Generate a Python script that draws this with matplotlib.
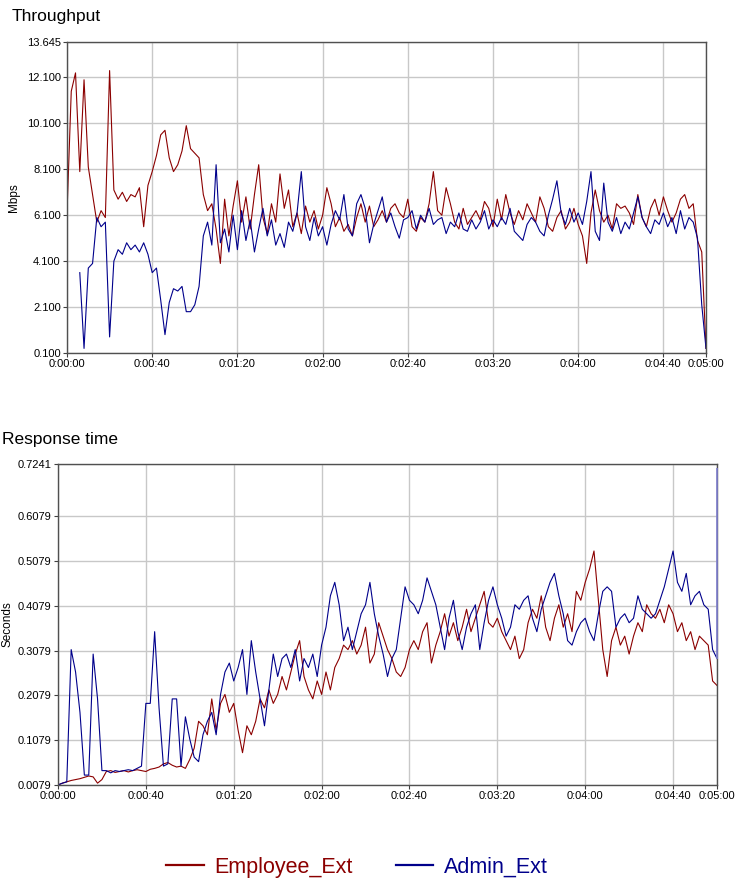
import numpy as np
import matplotlib
matplotlib.use("Agg")
import matplotlib.pyplot as plt

plt.rcParams['font.family'] = ['Liberation Sans', 'DejaVu Sans']

# time axis (seconds), one sample every 2 s
times = np.arange(0, 301, 2)

emp_tp = [6.2, 11.5, 12.3, 8.0, 12.0, 8.2, 7.0, 5.8, 6.3, 6.0,
          12.4, 7.2, 6.8, 7.1, 6.7, 7.0, 6.9, 7.3, 5.6, 7.4,
          8.0, 8.7, 9.6, 9.8, 8.6, 8.0, 8.3, 8.9, 10.0, 9.0,
          8.8, 8.6, 7.0, 6.3, 6.6, 5.5, 4.0, 6.8, 5.2, 6.5,
          7.6, 5.8, 6.9, 5.5, 7.0, 8.3, 6.0, 5.3, 6.6, 5.8,
          7.9, 6.4, 7.2, 5.6, 6.2, 5.3, 6.5, 5.8, 6.3, 5.5,
          6.1, 7.3, 6.6, 5.6, 6.0, 5.4, 5.7, 5.2, 6.0, 6.6,
          5.8, 6.5, 5.6, 5.9, 6.3, 5.8, 6.4, 6.6, 6.2, 6.0,
          6.8, 5.6, 5.4, 6.0, 5.8, 6.6, 8.0, 6.3, 6.1, 7.3,
          6.6, 5.8, 5.5, 6.4, 5.7, 6.0, 6.3, 5.9, 6.7, 6.4,
          5.6, 6.8, 5.9, 7.0, 6.2, 5.7, 6.3, 5.9, 6.6, 6.2,
          5.8, 6.9, 6.4, 5.6, 5.4, 6.0, 6.3, 5.5, 5.8, 6.4,
          5.7, 5.2, 4.0, 6.2, 7.2, 6.3, 5.8, 6.1, 5.5, 6.6,
          6.4, 6.5, 6.2, 5.7, 7.0, 6.0, 5.6, 6.4, 6.8, 6.1,
          6.9, 6.3, 5.8, 6.2, 6.8, 7.0, 6.4, 6.6, 5.0, 4.5,
          0.3]

adm_tp = [np.nan, np.nan, np.nan, 3.6, 0.3, 3.8, 4.0, 6.0, 5.6, 5.8,
          0.8, 4.1, 4.6, 4.4, 4.9, 4.6, 4.8, 4.5, 4.9, 4.4,
          3.6, 3.8, 2.4, 0.9, 2.3, 2.9, 2.8, 3.0, 1.9, 1.9,
          2.2, 3.0, 5.2, 5.8, 4.8, 8.3, 4.9, 5.5, 4.5, 6.1,
          4.6, 6.3, 5.0, 5.9, 4.5, 5.5, 6.4, 5.2, 5.9, 4.8,
          5.3, 4.7, 5.8, 5.4, 6.2, 8.0, 5.6, 5.0, 6.0, 5.2,
          5.6, 4.8, 5.7, 6.3, 5.9, 7.0, 5.5, 5.2, 6.6, 7.0,
          6.4, 4.9, 5.7, 6.3, 6.9, 5.8, 6.2, 5.6, 5.1, 5.9,
          6.0, 6.3, 5.5, 6.1, 5.8, 6.4, 5.7, 5.9, 6.0, 5.3,
          5.8, 5.6, 6.2, 5.5, 5.4, 5.9, 5.5, 5.8, 6.3, 5.5,
          5.9, 5.6, 6.0, 5.7, 6.4, 5.4, 5.2, 5.0, 5.7, 6.0,
          5.8, 5.4, 5.2, 6.1, 6.8, 7.6, 6.2, 5.7, 6.4, 5.8,
          6.2, 5.7, 6.7, 8.0, 5.4, 5.0, 7.5, 5.8, 5.4, 6.0,
          5.3, 5.8, 5.5, 6.2, 6.9, 6.0, 5.6, 5.3, 5.9, 5.7,
          6.2, 5.6, 6.0, 5.3, 6.3, 5.5, 6.0, 5.8, 5.1, 2.2,
          0.3]

emp_rt = [0.008, 0.012, 0.015, 0.018, 0.02, 0.022, 0.025, 0.028, 0.026, 0.012,
          0.02, 0.038, 0.04, 0.036, 0.038, 0.04, 0.037, 0.04, 0.042, 0.04,
          0.038, 0.043, 0.045, 0.048, 0.055, 0.058, 0.052, 0.048, 0.05, 0.045,
          0.065, 0.09, 0.15, 0.14, 0.12, 0.2, 0.13, 0.19, 0.21, 0.17,
          0.19, 0.13, 0.08, 0.14, 0.12, 0.15, 0.2, 0.18, 0.22, 0.19,
          0.21, 0.25, 0.22, 0.26, 0.3, 0.33, 0.25, 0.22, 0.2, 0.24,
          0.21, 0.26, 0.22, 0.27, 0.29, 0.32, 0.31, 0.33, 0.3, 0.32,
          0.36, 0.28, 0.3, 0.37, 0.34, 0.31, 0.29, 0.26, 0.25, 0.27,
          0.31, 0.33, 0.31, 0.35, 0.37, 0.28, 0.32, 0.35, 0.39, 0.34,
          0.37, 0.33, 0.36, 0.4, 0.35, 0.38, 0.41, 0.44, 0.37, 0.36,
          0.38, 0.35, 0.33, 0.31, 0.34, 0.29, 0.31, 0.37, 0.4, 0.38,
          0.43, 0.36, 0.33, 0.38, 0.41, 0.36, 0.39, 0.35, 0.44, 0.42,
          0.46, 0.49, 0.53, 0.42, 0.31, 0.25, 0.33, 0.36, 0.32, 0.34,
          0.3, 0.34, 0.37, 0.35, 0.41, 0.39, 0.38, 0.4, 0.37, 0.41,
          0.39, 0.35, 0.37, 0.33, 0.35, 0.31, 0.34, 0.33, 0.32, 0.24,
          0.23]

adm_rt = [0.008, 0.012, 0.015, 0.31, 0.26, 0.17, 0.03, 0.03, 0.3, 0.2,
          0.04, 0.04, 0.035, 0.04, 0.038, 0.04, 0.042, 0.04, 0.045, 0.05,
          0.19, 0.19, 0.35, 0.18, 0.05, 0.055, 0.2, 0.2, 0.05, 0.16,
          0.11, 0.07, 0.06, 0.12, 0.15, 0.17, 0.12, 0.21, 0.26, 0.28,
          0.24, 0.27, 0.31, 0.21, 0.33, 0.26, 0.2, 0.14, 0.22, 0.3,
          0.25, 0.29, 0.3, 0.27, 0.31, 0.24, 0.29, 0.27, 0.3, 0.25,
          0.32, 0.36, 0.43, 0.46, 0.41, 0.33, 0.36, 0.31, 0.35, 0.39,
          0.41, 0.46, 0.39, 0.34, 0.3, 0.25, 0.29, 0.31, 0.38, 0.45,
          0.42, 0.41, 0.39, 0.42, 0.47, 0.44, 0.41, 0.36, 0.31, 0.38,
          0.42, 0.35, 0.31, 0.36, 0.39, 0.41, 0.31, 0.37, 0.42, 0.45,
          0.41, 0.38, 0.34, 0.36, 0.41, 0.4, 0.42, 0.43, 0.38, 0.35,
          0.4, 0.43, 0.46, 0.48, 0.43, 0.39, 0.33, 0.32, 0.35, 0.37,
          0.38, 0.35, 0.33, 0.39, 0.44, 0.45, 0.44, 0.36, 0.38, 0.39,
          0.37, 0.38, 0.43, 0.4, 0.39, 0.38, 0.39, 0.42, 0.45, 0.49,
          0.53, 0.46, 0.44, 0.48, 0.41, 0.43, 0.44, 0.41, 0.4, 0.31,
          0.29]
adm_rt_final_spike = 0.715

tp_ticks = [0.100, 2.100, 4.100, 6.100, 8.100, 10.100, 12.100, 13.645]
rt_ticks = [0.0079, 0.1079, 0.2079, 0.3079, 0.4079, 0.5079, 0.6079, 0.7241]
x_ticks = [0, 40, 80, 120, 160, 200, 240, 280, 300]
x_labels = ["0:00:00", "0:00:40", "0:01:20", "0:02:00", "0:02:40",
            "0:03:20", "0:04:00", "0:04:40", "0:05:00"]
series_names = ["Employee_Ext", "Admin_Ext"]

RED = "#8b0000"
BLUE = "#00008b"
W, H = 736, 886

fig = plt.figure(figsize=(W / 100, H / 100), dpi=100)


def style(ax, yticks, fmt):
    ax.set_xlim(0, 300)
    ax.set_ylim(yticks[0], yticks[-1])
    ax.set_xticks(x_ticks)
    ax.set_xticklabels(x_labels)
    ax.set_yticks(yticks)
    ax.set_yticklabels([fmt.format(v) for v in yticks])
    ax.grid(True, color="#c8c8c8", linewidth=1.0)
    ax.set_axisbelow(True)
    ax.tick_params(labelsize=8, length=3, width=0.8, color="#404040", pad=1.5)
    for s in ax.spines.values():
        s.set_color("#505050")
        s.set_linewidth(1.0)


ax1 = fig.add_axes([67 / W, 1 - 353 / H, (706 - 67) / W, (353 - 42) / H])
l1, = ax1.plot(times, emp_tp, color=RED, linewidth=0.8)
l2, = ax1.plot(times, adm_tp, color=BLUE, linewidth=0.8)
style(ax1, tp_ticks, "{:.3f}")
ax1.set_ylabel("Mbps", fontsize=8.5, labelpad=5)

ax2 = fig.add_axes([58 / W, 1 - 785 / H, (717 - 58) / W, (785 - 464) / H])
ax2.plot(times, emp_rt, color=RED, linewidth=0.8)
ax2.plot(times, adm_rt, color=BLUE, linewidth=0.8)
ax2.vlines(times[-1], adm_rt[-1], adm_rt_final_spike, color="#8080d0",
           linewidth=1.2, zorder=3, clip_on=False)
style(ax2, rt_ticks, "{:.4f}")
ax2.set_ylabel("Seconds", fontsize=8.5, labelpad=3)

fig.text(12 / W, 1 - 17 / H, "Throughput", fontsize=12.5, va="center", ha="left")
fig.text(2 / W, 1 - 440 / H, "Response time", fontsize=12.5, va="center", ha="left")

leg = fig.legend([l1, l2], series_names, loc="center", bbox_to_anchor=(357 / W, 1 - 867 / H),
                 ncol=2, frameon=False, fontsize=15.5, handlelength=1.75, handletextpad=0.5,
                 columnspacing=2.0, labelcolor="linecolor")
for line in leg.get_lines():
    line.set_linewidth(1.6)

fig.savefig("out.png", dpi=100)
